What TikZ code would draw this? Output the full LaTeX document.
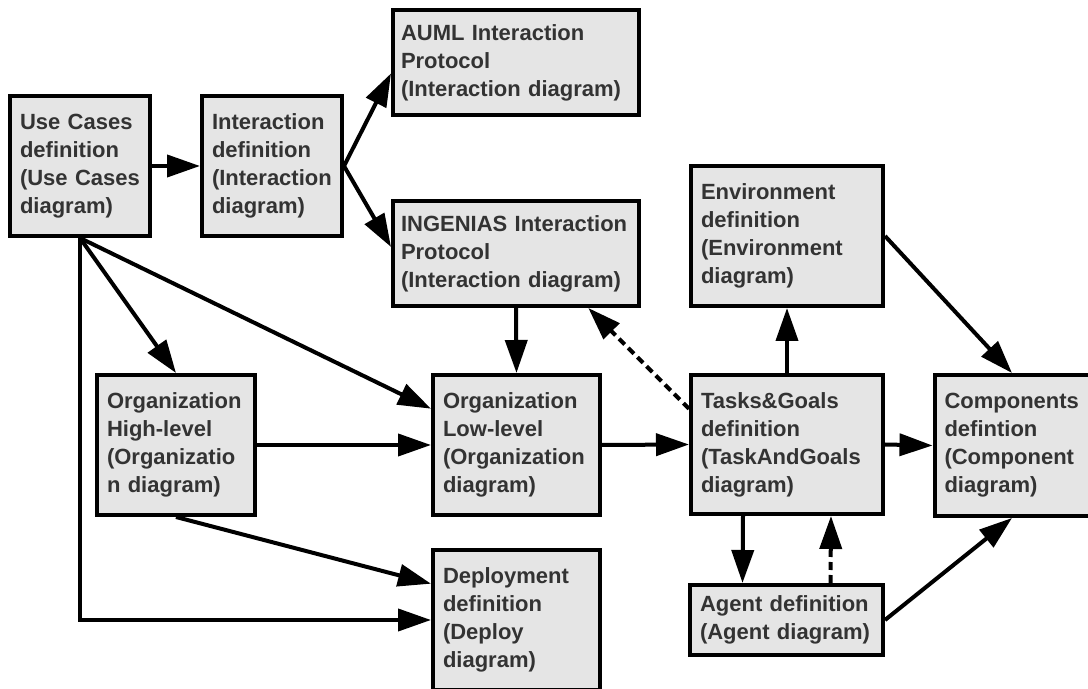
\documentclass[tikz,border=0pt]{standalone}
\usepackage{fontspec}
\setmainfont{Liberation Sans}
\usetikzlibrary{arrows.meta,calc}
\definecolor{boxtext}{HTML}{333333}
\tikzset{
  every box/.style={draw, line width=2pt, fill=black!10, text=boxtext, align=left,
    inner xsep=5pt, inner ysep=0pt, font=\bfseries\fontsize{11}{14}\selectfont},
  link/.style={line width=2pt},
  weak link/.style={line width=2pt, dash pattern=on 4pt off 2.5pt}
}

\begin{document}
\begin{tikzpicture}[x=0.5pt, y=-0.5pt, >={Triangle[length=16.5pt, width=11pt]}]
        \clip (0,0) rectangle (1088,689);
        \node [every box/.try, text width=60pt, minimum height=70pt] (usecase) at (80,166)
          {Use Cases\\definition\\(Use Cases\\diagram)};
        \node [every box/.try, text width=60pt, minimum height=70pt] (interaction) at (272,166)
          {Interaction\\definition\\(Interaction\\diagram)};
        \node [every box/.try, text width=115pt, inner xsep=4pt, minimum height=52.5pt] (auml) at (516,62.5)
          {AUML Interaction\\Protocol\\(Interaction diagram)};
        \node [every box/.try, text width=115pt, inner xsep=4pt, minimum height=52.5pt] (ingenias) at (516,253.5)
          {INGENIAS Interaction\\Protocol\\(Interaction diagram)};
        \node [every box/.try, text width=86pt, minimum height=70pt] (environment) at (787,236)
          {Environment\\definition\\(Environment\\diagram)};
        \node [every box/.try, text width=69pt, minimum height=70pt] (org-high) at (176,445)
          {Organization\\High-level\\(Organizatio\\n diagram)};
        \node [every box/.try, text width=73.5pt, minimum height=70pt] (org-low) at (516.5,445)
          {Organization\\Low-level\\(Organization\\diagram)};
        \node [every box/.try, text width=86pt, minimum height=69.5pt] (tasks) at (787,444.5)
          {Tasks\&Goals\\definition\\(TaskAndGoals\\diagram)};
        \node [every box/.try, text width=67.5pt, minimum height=70.5pt] (components) at (1012,445.5)
          {Components\\defintion\\(Component\\diagram)};
        \node [every box/.try, text width=73.5pt, minimum height=70pt] (deploy) at (516.5,620)
          {Deployment\\definition\\(Deploy\\diagram)};
        \node [every box/.try, text width=86.5pt, minimum height=35pt] (agent) at (786.5,620)
          {Agent definition\\(Agent diagram)};
        \foreach \a/\b in {usecase.east/interaction.west, interaction.east/auml.185,
            interaction.east/ingenias.177, usecase.south/org-high.north, usecase.south/org-low.157,
            org-high.east/org-low.west, org-high.south/deploy.157, ingenias.south/org-low.north,
            org-low.east/tasks.west, tasks.north/environment.south, environment.east/components.north,
            tasks.east/components.west, agent.east/components.south}
          \draw [link, ->] (\a) -- (\b);
        \draw [link, ->] (usecase.south) |- (deploy.west);
        \draw [link, ->] ($(tasks.south)+(-44,0)$) -- ($(agent.north)+(-44,0)$);
        \draw [weak link, ->] ($(agent.north)+(44,0)$) -- ($(tasks.south)+(44,0)$);
        \draw [weak link, ->] (tasks.160) -- (ingenias.323.5);
    \end{tikzpicture}
\end{document}
